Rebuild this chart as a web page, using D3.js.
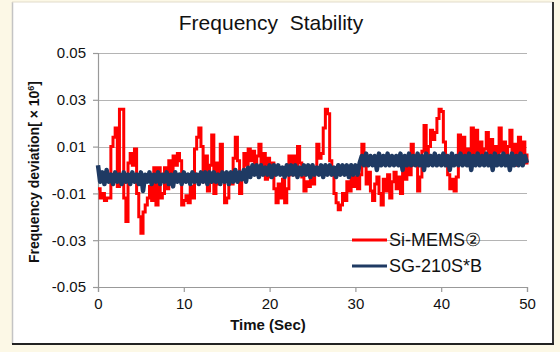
<!DOCTYPE html>
<html>
<head>
<meta charset="utf-8">
<script src="https://cdn.jsdelivr.net/npm/d3@7"></script>
<style>
  html, body { margin: 0; padding: 0; background: #fcf8e6; }
  svg { display: block; font-family: Arial, "Liberation Sans", sans-serif; }
</style>
</head>
<body>
<div id="chart"></div>
<script>
// sample interval of both recordings (seconds)
const sampleStep = 0.25;

const yTicks = [-0.05, -0.03, -0.01, 0.01, 0.03, 0.05];
const xTicks = [0, 10, 20, 30, 40, 50];
const seriesNames = ["Si-MEMS\u2461", "SG-210S*B"];

const siMems = [
  -0.008,-0.012,-0.010,-0.013,-0.012,-0.012,0.010,0.014,0.018,-0.007,
  0.026,0.026,-0.012,-0.022,0.003,0.007,0.002,0.009,-0.010,-0.020,
  -0.027,-0.018,-0.015,-0.012,-0.007,-0.013,0.001,-0.015,0.001,-0.012,
  -0.010,0.001,-0.008,0.004,-0.001,0.006,0.002,0.007,0.004,-0.015,
  -0.013,-0.011,-0.014,-0.007,-0.012,0.009,0.014,0.018,0.010,-0.005,
  0.006,-0.009,0.002,0.015,-0.010,0.003,-0.006,0.011,-0.004,-0.014,
  -0.012,-0.004,-0.006,0.005,0.014,0.004,-0.010,-0.004,0.007,0.002,
  0.009,0.004,0.008,-0.001,0.006,0.011,0.002,0.007,-0.004,0.005,
  -0.003,0.003,-0.008,-0.014,-0.006,-0.012,-0.004,-0.014,-0.008,0.006,
  -0.002,0.006,0.001,0.010,0.003,-0.003,-0.009,-0.005,-0.007,-0.002,
  -0.006,0.000,0.011,0.005,0.007,0.018,0.026,0.024,0.004,-0.002,
  -0.010,-0.014,-0.017,-0.015,-0.010,-0.013,-0.005,-0.009,-0.002,-0.007,
  -0.003,-0.008,-0.002,0.011,0.004,-0.006,-0.001,-0.009,-0.013,-0.006,
  -0.003,-0.010,-0.015,-0.004,-0.009,-0.002,-0.012,-0.005,-0.001,-0.008,
  -0.003,-0.010,0.001,-0.004,0.002,-0.002,0.011,0.002,0.006,-0.009,
  -0.003,0.008,0.019,0.006,0.010,0.017,0.013,0.016,0.022,0.026,
  0.025,0.012,0.004,-0.002,-0.008,-0.004,-0.009,-0.003,0.015,0.003,
  0.014,0.004,0.009,0.002,0.018,0.007,0.017,0.004,0.012,0.003,
  0.009,0.016,0.006,0.013,0.002,0.010,0.004,0.018,0.008,0.012,
  0.003,0.010,0.017,0.005,0.011,0.002,0.014,0.006,0.012,0.003,
  0.007
];

const sg210 = [
  0.002,-0.005,-0.001,-0.006,0.000,-0.005,-0.002,-0.006,-0.001,-0.005,
  -0.002,-0.006,-0.001,-0.005,-0.002,-0.006,-0.001,-0.005,-0.002,-0.006,
  -0.001,-0.009,-0.002,-0.005,-0.001,-0.006,-0.002,-0.005,-0.001,-0.006,
  -0.002,-0.005,-0.001,-0.006,-0.002,-0.007,-0.001,-0.005,-0.002,-0.006,
  -0.001,-0.005,-0.002,-0.006,-0.001,-0.005,-0.002,-0.006,-0.001,-0.005,
  -0.001,-0.006,-0.001,-0.005,-0.001,-0.005,-0.002,-0.006,-0.001,-0.005,
  -0.001,-0.006,-0.001,-0.005,0.000,-0.005,-0.001,-0.004,0.000,-0.005,
  0.001,-0.003,0.002,-0.002,0.002,-0.003,0.002,-0.002,0.001,-0.002,
  0.002,-0.003,0.002,-0.002,0.002,-0.002,0.001,-0.003,0.002,-0.002,
  0.002,-0.002,0.002,-0.003,0.001,-0.002,0.002,-0.002,0.002,-0.003,
  0.002,-0.002,0.001,-0.002,0.002,-0.003,0.002,-0.002,0.002,-0.002,
  0.001,-0.003,0.002,-0.002,0.002,-0.002,0.002,-0.003,0.002,-0.002,
  0.002,-0.002,0.003,0.006,0.002,0.007,0.002,0.006,0.002,0.006,
  0.000,0.007,0.002,0.006,0.002,0.007,0.002,0.006,0.002,0.006,
  0.002,0.007,0.000,0.006,0.002,0.007,0.002,0.006,0.002,0.007,
  0.002,0.006,0.000,0.007,0.002,0.006,0.002,0.007,0.002,0.006,
  0.002,0.007,0.002,0.006,0.000,0.007,0.002,0.006,0.002,0.007,
  0.002,0.006,0.002,0.007,0.000,0.006,0.002,0.007,0.002,0.006,
  0.002,0.007,0.002,0.006,0.000,0.007,0.002,0.006,0.002,0.007,
  0.002,0.006,0.000,0.007,0.002,0.006,0.002,0.007,0.002,0.006,
  0.003
];

const seriesColors = ["#ff0000", "#1f3a63"];

(function() {
    const W = 560, H = 352;
    const plot = { left: 98, right: 527, top: 53, bottom: 287 };

    const svg = d3.select("#chart").append("svg")
        .attr("width", W)
        .attr("height", H);

    svg.append("rect").attr("width", W).attr("height", H).attr("fill", "#fcf8e6");

    // white chart frame
    svg.append("rect")
        .attr("x", 12).attr("y", 2)
        .attr("width", 541).attr("height", 342)
        .attr("fill", "#ffffff");
    svg.append("line").attr("x1", 12.5).attr("y1", 2).attr("x2", 12.5).attr("y2", 344)
        .attr("stroke", "#c4c4c4").attr("stroke-width", 1.5);
    svg.append("line").attr("x1", 12).attr("y1", 2).attr("x2", 553).attr("y2", 2)
        .attr("stroke", "#e2dccb").attr("stroke-width", 1);
    svg.append("line").attr("x1", 553).attr("y1", 2).attr("x2", 553).attr("y2", 345)
        .attr("stroke", "#333").attr("stroke-width", 2);
    svg.append("line").attr("x1", 12).attr("y1", 344).attr("x2", 554).attr("y2", 344)
        .attr("stroke", "#222").attr("stroke-width", 2);

    const x = d3.scaleLinear().domain([0, 50]).range([plot.left, plot.right]);
    const y = d3.scaleLinear().domain([-0.05, 0.05]).range([plot.bottom, plot.top]);

    // horizontal gridlines
    svg.append("g")
        .selectAll("line")
        .data(yTicks.filter(d => d > -0.05))
        .enter().append("line")
        .attr("x1", plot.left).attr("x2", plot.right)
        .attr("y1", d => Math.round(y(d)) + 0.5).attr("y2", d => Math.round(y(d)) + 0.5)
        .attr("stroke", "#b4b4b4").attr("stroke-width", 1.2);

    // y axis
    const yAxis = svg.append("g")
        .attr("transform", `translate(${plot.left},0)`)
        .call(d3.axisLeft(y).tickValues(yTicks).tickSize(5).tickPadding(7)
            .tickFormat(d3.format(".2f")));
    yAxis.select(".domain").attr("stroke", "#999").attr("stroke-width", 1.2);
    yAxis.selectAll(".tick line").attr("stroke", "#999").attr("stroke-width", 1.2);
    yAxis.selectAll("text").attr("font-size", 15).attr("fill", "#111")
        .attr("font-family", "Arial, 'Liberation Sans', sans-serif")
        .text(d => d3.format(".2f")(d).replace("\u2212", "-"));

    // x axis
    const xAxis = svg.append("g")
        .attr("transform", `translate(0,${plot.bottom})`)
        .call(d3.axisBottom(x).tickValues(xTicks).tickSize(5).tickPadding(6));
    xAxis.select(".domain").attr("stroke", "#999").attr("stroke-width", 1.2);
    xAxis.selectAll(".tick line").attr("stroke", "#999").attr("stroke-width", 1.2);
    xAxis.selectAll("text").attr("font-size", 15).attr("fill", "#111")
        .attr("font-family", "Arial, 'Liberation Sans', sans-serif");

    const line = d3.line()
        .x((d, i) => x(i * sampleStep))
        .y(d => y(d));

    // red trace looks blocky in the original, so draw it as steps
    svg.append("path")
        .datum(siMems)
        .attr("d", line.curve(d3.curveStepAfter))
        .attr("fill", "none")
        .attr("stroke", seriesColors[0])
        .attr("stroke-width", 3);

    svg.append("path")
        .datum(sg210)
        .attr("d", line.curve(d3.curveLinear))
        .attr("fill", "none")
        .attr("stroke", seriesColors[1])
        .attr("stroke-width", 4.5)
        .attr("stroke-linejoin", "round");

    // title
    svg.append("text")
        .attr("x", 271).attr("y", 30)
        .attr("text-anchor", "middle")
        .attr("font-size", 21)
        .attr("fill", "#111")
        .style("white-space", "pre")
        .text("Frequency  Stability");

    // axis titles
    svg.append("text")
        .attr("x", 268).attr("y", 330)
        .attr("text-anchor", "middle")
        .attr("font-size", 15)
        .attr("font-weight", "bold")
        .attr("fill", "#111")
        .text("Time (Sec)");

    const yTitle = svg.append("text")
        .attr("transform", "translate(39,172) rotate(-90)")
        .attr("text-anchor", "middle")
        .attr("font-size", 14)
        .attr("font-weight", "bold")
        .attr("fill", "#111");
    yTitle.append("tspan").text("Frequency deviation[ \u00d7 10");
    yTitle.append("tspan").attr("baseline-shift", "super").attr("font-size", 9).text("6");
    yTitle.append("tspan").text("]");

    // legend
    const legend = svg.append("g");
    seriesNames.forEach((name, i) => {
        const ly = 240 + i * 26;
        legend.append("line")
            .attr("x1", 352).attr("x2", 387)
            .attr("y1", ly).attr("y2", ly)
            .attr("stroke", seriesColors[i])
            .attr("stroke-width", 3);
        legend.append("text")
            .attr("x", 389).attr("y", ly + 6)
            .attr("font-size", 18)
            .attr("fill", "#111")
            .text(name);
    });
})();
</script>
</body>
</html>
